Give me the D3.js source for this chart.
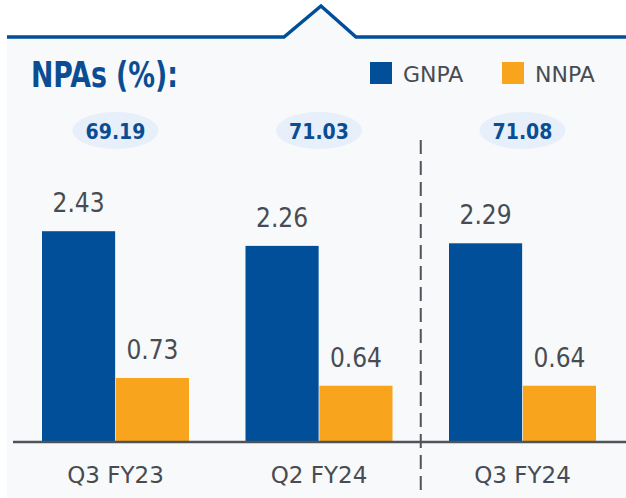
<!DOCTYPE html>
<html>
<head>
<meta charset="utf-8">
<script src="https://cdn.jsdelivr.net/npm/d3@7"></script>
<style>
  html, body { margin: 0; padding: 0; background: #ffffff; }
  svg { display: block; }
  text { font-family: "DejaVu Sans Condensed", "DejaVu Sans", sans-serif; font-stretch: condensed; }
  text.largo { font-family: "DejaVu Sans", sans-serif; font-stretch: normal; }
</style>
</head>
<body>
<div class="grafico"></div>
<script>
// categorias e séries
var quarters = ["Q3 FY23", "Q2 FY24", "Q3 FY24"];
var series = ["GNPA", "NNPA"];
var gnpa = [2.43, 2.26, 2.29];
var nnpa = [0.73, 0.64, 0.64];
var pcr = ["69.19", "71.03", "71.08"];

var width = 626;
var height = 498;

var blue = "#004f98";
var orange = "#f8a51d";
var grey = "#484c52";

var svg = d3.select(".grafico")
  .append("svg")
  .attr("width", width)
  .attr("height", height);

// fundo do painel com a "seta" no topo
var lineY = 37;
var panel = [[7, lineY], [284, lineY], [321, 6], [356, lineY], [width, lineY], [width, height], [7, height]];
svg.append("path")
  .attr("d", d3.line()(panel) + "Z")
  .attr("fill", "#f7f9fa");

svg.append("path")
  .attr("d", d3.line()([[7, lineY], [284, lineY], [321, 6], [356, lineY], [width, lineY]]))
  .attr("fill", "none")
  .attr("stroke", blue)
  .attr("stroke-width", 3.5);

// titulo
svg.append("text")
  .attr("x", 31)
  .attr("y", 87)
  .attr("fill", "#0b4d92")
  .attr("font-size", 35)
  .attr("font-weight", "bold")
  .attr("textLength", 147)
  .attr("lengthAdjust", "spacingAndGlyphs")
  .text("NPAs (%):");

// legenda
var legend = svg.selectAll(".legend")
  .data(series)
  .enter()
  .append("g")
  .attr("transform", function(d, i){ return "translate(" + (370 + i * 132) + ",62)"; });

legend.append("rect")
  .attr("width", 22)
  .attr("height", 22)
  .attr("fill", function(d, i){ return i == 0 ? blue : orange; });

legend.append("text")
  .attr("class", "largo")
  .attr("x", 33)
  .attr("y", 20)
  .attr("fill", grey)
  .attr("font-size", 22)
  .text(function(d){ return d; });

// escalas
var xCenter = d3.scalePoint()
  .domain(quarters)
  .range([115.5, 522.5]);

var groupWidth = 147;
var x1 = d3.scaleBand()
  .domain(series)
  .range([0, groupWidth])
  .paddingInner(0.01);

var y = d3.scaleLinear()
  .domain([0, 3])
  .range([441, 182]);

// linha tracejada entre Q2 e Q3 FY24
var sepX = (xCenter(quarters[1]) + xCenter(quarters[2])) / 2;
svg.append("line")
  .attr("x1", sepX).attr("x2", sepX)
  .attr("y1", 140).attr("y2", 492)
  .attr("stroke", "#50545a")
  .attr("stroke-width", 2)
  .attr("stroke-dasharray", "14,7");

// barras
var rows = quarters.map(function(q, i){
  return { q: q, vals: [{ s: "GNPA", v: gnpa[i] }, { s: "NNPA", v: nnpa[i] }], pcr: pcr[i] };
});

var groups = svg.selectAll(".grupo")
  .data(rows)
  .enter()
  .append("g")
  .attr("transform", function(d){ return "translate(" + (xCenter(d.q) - groupWidth / 2) + ",0)"; });

groups.selectAll("rect")
  .data(function(d){ return d.vals; })
  .enter()
  .append("rect")
  .attr("x", function(d){ return x1(d.s); })
  .attr("width", x1.bandwidth())
  .attr("y", function(d){ return y(d.v); })
  .attr("height", function(d){ return y(0) - y(d.v); })
  .attr("fill", function(d){ return d.s == "GNPA" ? blue : orange; });

groups.selectAll(".valor")
  .data(function(d){ return d.vals; })
  .enter()
  .append("text")
  .attr("x", function(d){ return x1(d.s) + x1.bandwidth() / 2; })
  .attr("y", function(d){ return y(d.v) - 19; })
  .attr("text-anchor", "middle")
  .attr("fill", grey)
  .attr("font-size", 26)
  .text(function(d){ return d.v.toFixed(2); });

// elipses com PCR
groups.append("ellipse")
  .attr("cx", groupWidth / 2)
  .attr("cy", 130.5)
  .attr("rx", 43)
  .attr("ry", 18.5)
  .attr("fill", "#e6effa");

groups.append("text")
  .attr("x", groupWidth / 2)
  .attr("y", 139)
  .attr("text-anchor", "middle")
  .attr("fill", "#0b4d92")
  .attr("font-size", 21)
  .attr("font-weight", "bold")
  .text(function(d){ return d.pcr; });

// eixo x
svg.append("line")
  .attr("x1", 13).attr("x2", width)
  .attr("y1", 442).attr("y2", 442)
  .attr("stroke", "#50545a")
  .attr("stroke-width", 2.5);

svg.selectAll(".cat")
  .data(quarters)
  .enter()
  .append("text")
  .attr("class", "largo")
  .attr("x", function(d){ return xCenter(d); })
  .attr("y", 483)
  .attr("text-anchor", "middle")
  .attr("fill", grey)
  .attr("font-size", 23)
  .text(function(d){ return d; });
</script>
</body>
</html>
